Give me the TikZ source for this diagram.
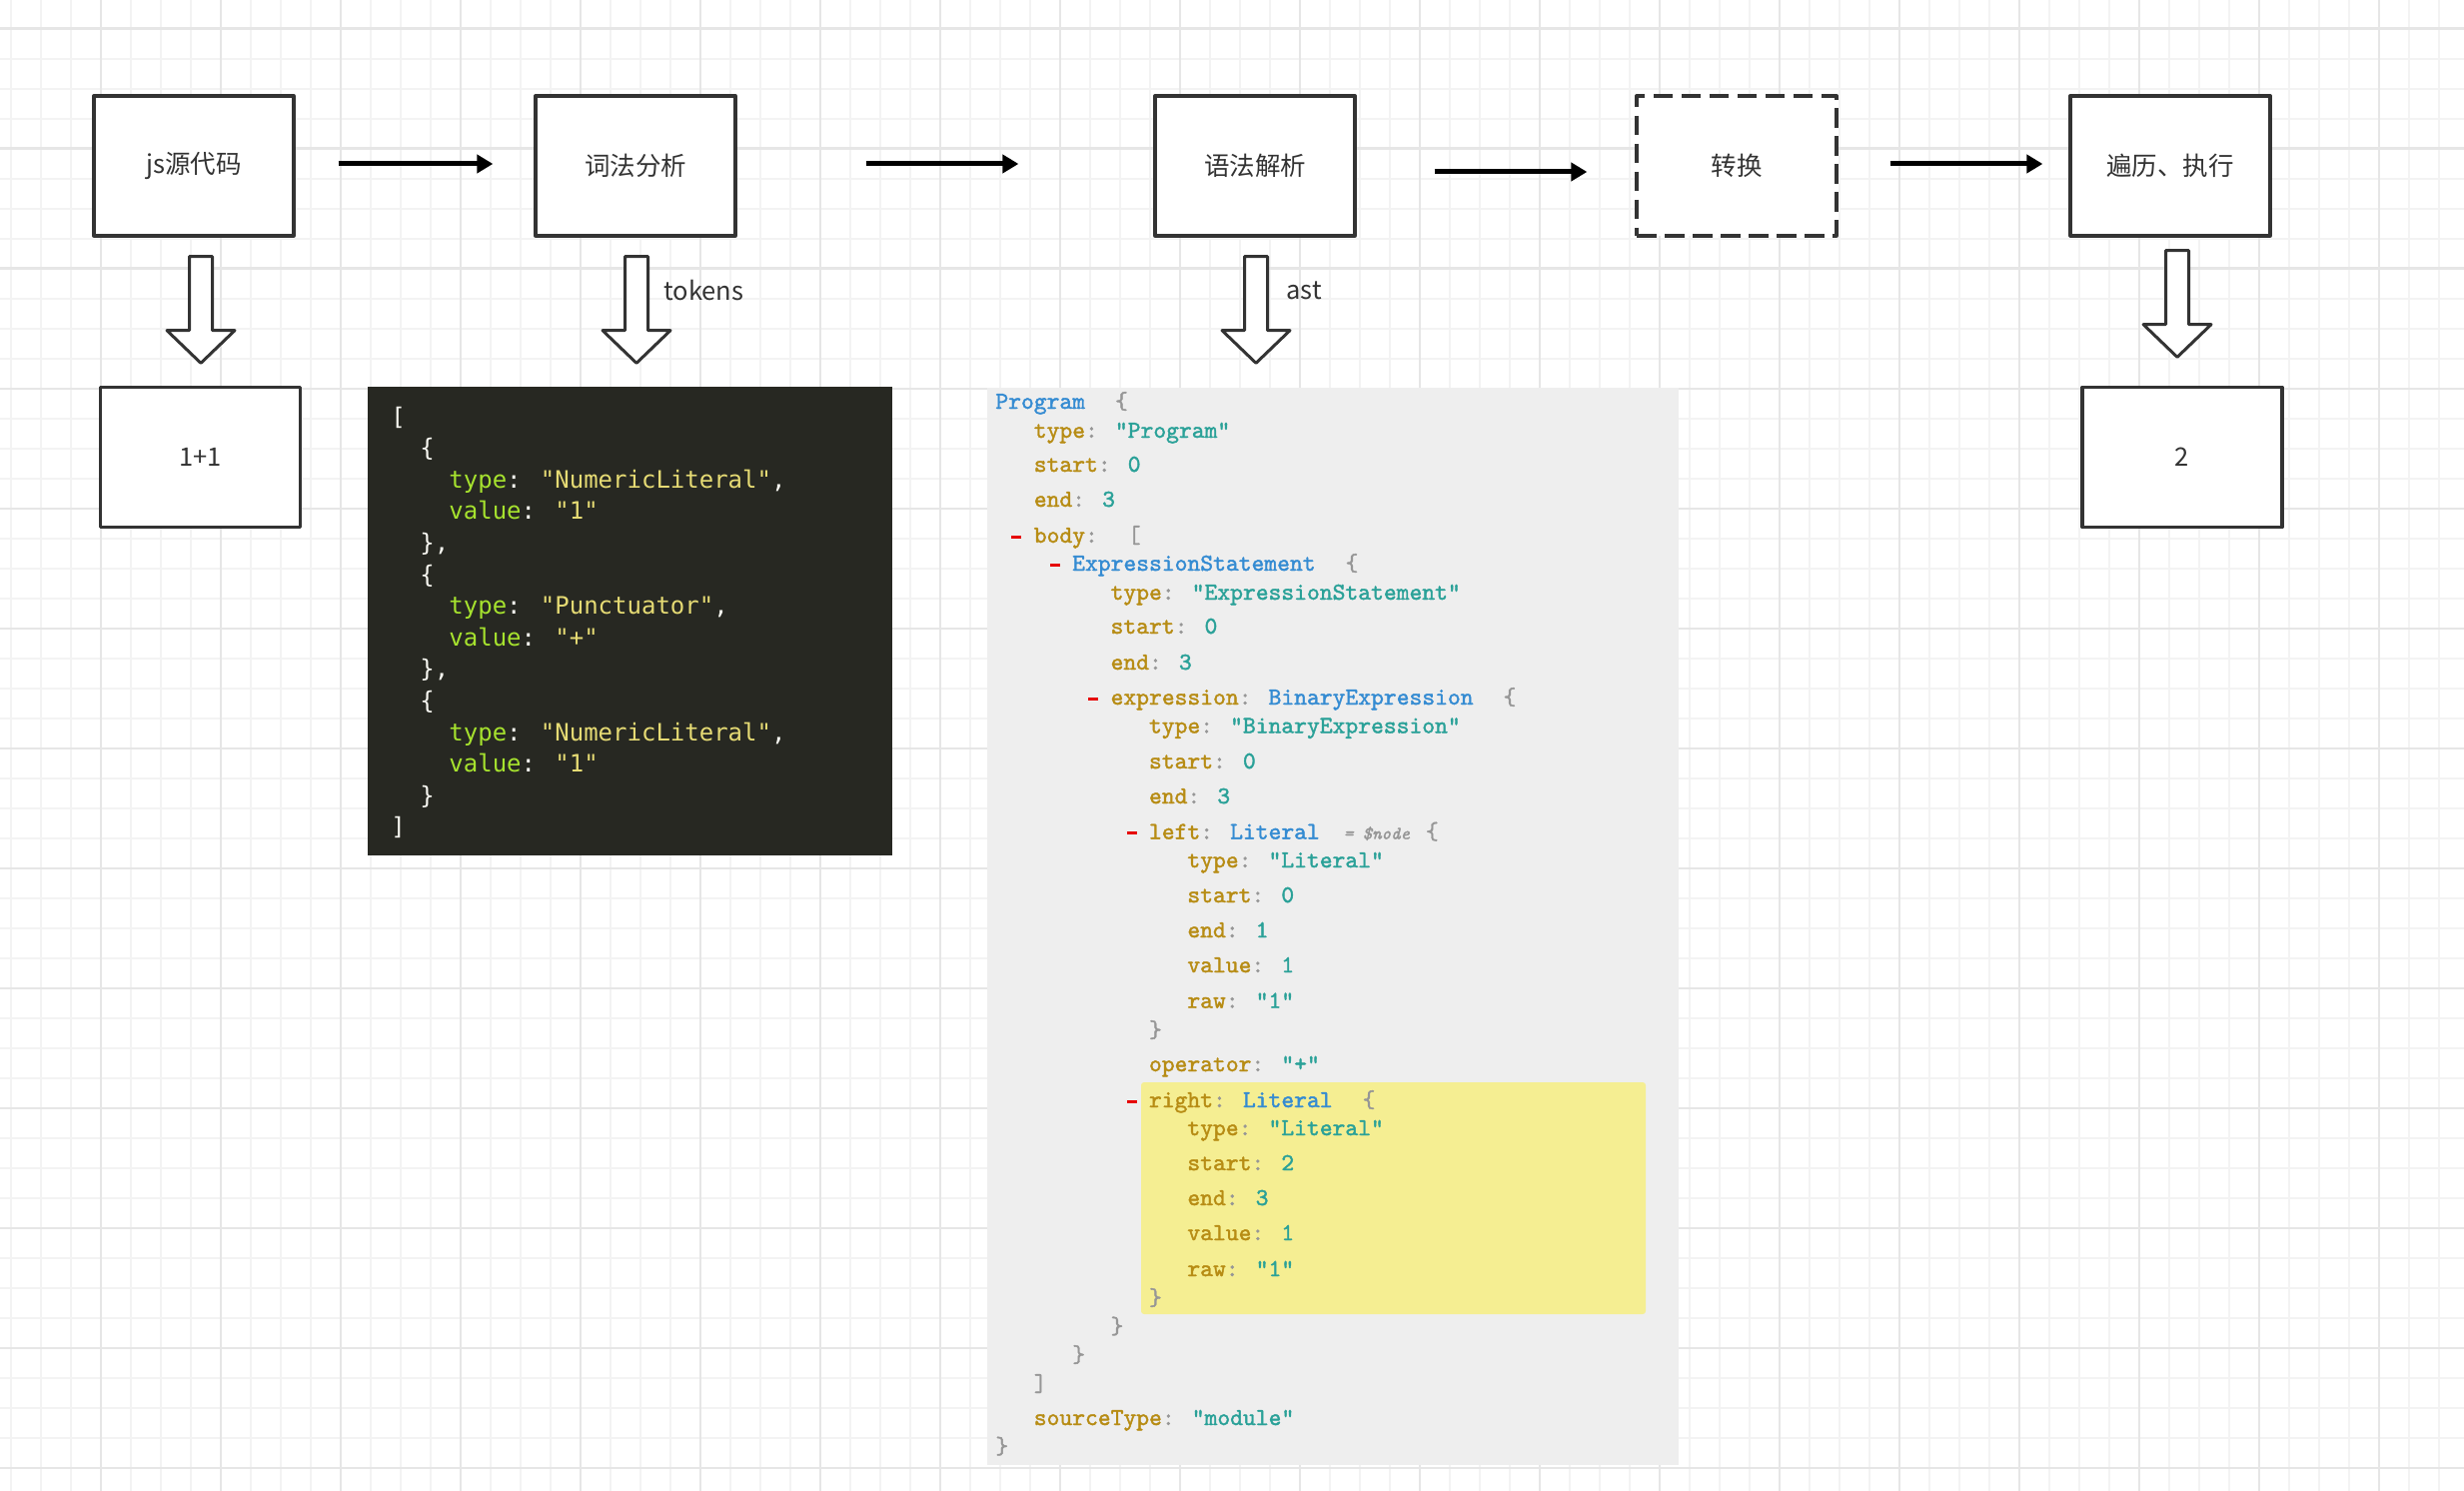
\documentclass[tikz,border=0pt]{standalone}
\usepackage{fontspec}
\setmainfont{Liberation Sans}
\newfontfamily\cjk{Noto Sans CJK SC}
\newfontfamily\dmono{DejaVu Sans Mono}
\newfontfamily\astfont{lmmono10-regular.otf}[FakeBold=1.6, BoldFont=lmmono10-regular.otf, ItalicFont=lmmono10-italic.otf]
\usetikzlibrary{arrows.meta}
\definecolor{gridminor}{RGB}{243,243,243}
\definecolor{gridmajor}{RGB}{230,230,230}
\definecolor{boxline}{RGB}{51,51,51}
\definecolor{mkbg}{RGB}{39,40,34}
\definecolor{mkkey}{RGB}{166,226,46}
\definecolor{mkstr}{RGB}{230,219,116}
\definecolor{mkpun}{RGB}{248,248,242}
\definecolor{astbg}{RGB}{238,238,238}
\definecolor{asthl}{RGB}{245,238,146}
\definecolor{askey}{RGB}{183,140,20}
\definecolor{astyp}{RGB}{52,139,210}
\definecolor{asstr}{RGB}{42,161,152}
\definecolor{asgray}{RGB}{150,150,150}
\definecolor{asred}{RGB}{230,0,0}
\newcommand\mK[1]{\textcolor{mkkey}{#1}}
\newcommand\mS[1]{\textcolor{mkstr}{#1}}
\newcommand\mP[1]{\textcolor{mkpun}{#1}}
\newcommand\xK[1]{\textcolor{askey}{#1}\textcolor{asgray}{:}}
\newcommand\xS[1]{\textcolor{asstr}{#1}}
\newcommand\xT[1]{\textcolor{astyp}{#1}}
\newcommand\xB[1]{\hspace{15pt}{\mdseries\textcolor{asgray}{#1}}}
\newcommand\xG[1]{{\mdseries\textcolor{asgray}{#1}}}
\begin{document}
\begin{tikzpicture}[x=0.5pt,y=-0.5pt,
  box/.style={draw=boxline, line width=1.65pt, fill=white, minimum width=100pt,
    minimum height=70pt, inner sep=0pt, line join=round, text=boxline,
    font=\cjk\fontsize{12.75}{15}\selectfont},
  dashbox/.style={box, dash pattern=on 9.75pt off 4.25pt},
  flow/.style={line width=2.5pt, -{Triangle[length=8pt,width=9pt]}},
  hollow/.style={draw=boxline, fill=white, line width=1.5pt, line join=round},
  lbl/.style={anchor=west, inner sep=0pt, text=boxline, font=\cjk\fontsize{12.75}{15}\selectfont},
  mk/.style={anchor=west, inner sep=0pt, text height=8pt, text depth=2pt,
    font=\dmono\fontsize{12}{14}\selectfont},
  ast/.style={anchor=west, inner sep=0pt, text height=8pt, text depth=2pt,
    font=\astfont\bfseries\fontsize{12.2}{14}\selectfont},
  redmark/.style={draw=asred, line width=1.5pt},
  blockdown/.pic={\path[hollow] (-11.5,0) -- (-11.5,74) -- (-34,74) -- (0,106.7)
    -- (34,74) -- (11.5,74) -- (11.5,0) -- cycle;}
]
\useasboundingbox (0,0) rectangle (2466,1492);
\fill[white] (0,0) rectangle (2466,1492);
% grid
\foreach \x in {11,41,...,2461} \draw[gridminor, line width=1pt] (\x,0) -- (\x,1492);
\foreach \y in {28.6,58.6,...,1490} \draw[gridminor, line width=1pt] (0,\y) -- (2466,\y);
\foreach \x in {101,221,...,2461} \draw[gridmajor, line width=1.1pt] (\x,0) -- (\x,1492);
\foreach \y in {28.6,148.6,...,1490} \draw[gridmajor, line width=1.1pt] (0,\y) -- (2466,\y);

% top row
\node[box] (js) at (194,166) {js源代码};
\node[box] (cifa) at (636,166) {词法分析};
\node[box] (yufa) at (1256,166) {语法解析};
\node[dashbox] (zh) at (1738,166) {转换};
\node[box] (bl) at (2172,166) {遍历、执行};
% bottom boxes
\node[box] (src) at (200.5,457.5) {1+1};
\node[box] (res) at (2184,457.5) {2};

% flow arrows
\draw[flow, shorten <=21.5pt, shorten >=20.5pt] ([yshift=1pt]js.east) -- ([yshift=1pt]cifa.west);
\draw[flow, shorten <=64.5pt, shorten >=67.5pt] ([yshift=1pt]cifa.east) -- ([yshift=1pt]yufa.west);
\draw[flow, shorten <=39pt, shorten >=24pt] ([yshift=-3pt]yufa.east) -- ([yshift=-3pt]zh.west);
\draw[flow, shorten <=26pt, shorten >=13pt] ([yshift=1pt]zh.east) -- ([yshift=1pt]bl.west);

% hollow down arrows
\pic (d1) at ([shift={(7,19)}]js.south) {blockdown};
\pic (d2) at ([shift={(1,19)}]cifa.south) {blockdown};
\pic (d3) at ([shift={(1,19)}]yufa.south) {blockdown};
\pic (d4) at ([shift={(7,13)}]bl.south) {blockdown};
\node[lbl] (tk) at (664,291) {tokens};
\node[lbl] (as) at (1287,291) {ast};

% tokens panel
\fill[mkbg] (368,387) rectangle (893,856);
\node[mk] (c0) at (391,419) {\mP{[}};
\node[mk] (c1) at (420,450.6) {\mP{\{}};
\node[mk] (c2) at (449,482.2) {\mK{type}\mP{:} \mS{"NumericLiteral"}\mP{,}};
\node[mk] (c3) at (449,513.8) {\mK{value}\mP{:} \mS{"1"}};
\node[mk] (c4) at (420,545.4) {\mP{\},}};
\node[mk] (c5) at (420,577) {\mP{\{}};
\node[mk] (c6) at (449,608.6) {\mK{type}\mP{:} \mS{"Punctuator"}\mP{,}};
\node[mk] (c7) at (449,640.2) {\mK{value}\mP{:} \mS{"+"}};
\node[mk] (c8) at (420,671.8) {\mP{\},}};
\node[mk] (c9) at (420,703.4) {\mP{\{}};
\node[mk] (c10) at (449,735) {\mK{type}\mP{:} \mS{"NumericLiteral"}\mP{,}};
\node[mk] (c11) at (449,766.6) {\mK{value}\mP{:} \mS{"1"}};
\node[mk] (c12) at (420,798.2) {\mP{\}}};
\node[mk] (c13) at (391,829.8) {\mP{]}};

% AST panel
\fill[astbg] (988,388) rectangle (1680,1466);
\fill[asthl, rounded corners=1.5pt] (1142,1083) rectangle (1647,1315);
\node[ast] (p1) at (996,403) {\xT{Program}\xB{\{}};
\node[ast] (p2) at (1034.4,432) {\xK{type} \xS{"Program"}};
\node[ast] (p3) at (1034.4,466) {\xK{start} \xS{0}};
\node[ast] (p4) at (1034.4,501) {\xK{end} \xS{3}};
\node[ast] (p5) at (1034.4,537) {\xK{body}\xB{[}};
\node[ast] (p6) at (1072.8,565) {\xT{ExpressionStatement}\xB{\{}};
\node[ast] (p7) at (1111.2,594) {\xK{type} \xS{"ExpressionStatement"}};
\node[ast] (p8) at (1111.2,628) {\xK{start} \xS{0}};
\node[ast] (p9) at (1111.2,664) {\xK{end} \xS{3}};
\node[ast] (p10) at (1111.2,699) {\xK{expression} \xT{BinaryExpression}\xB{\{}};
\node[ast] (p11) at (1149.6,727.5) {\xK{type} \xS{"BinaryExpression"}};
\node[ast] (p12) at (1149.6,763) {\xK{start} \xS{0}};
\node[ast] (p13) at (1149.6,798) {\xK{end} \xS{3}};
\node[ast] (p14) at (1149.6,833.6) {\xK{left} \xT{Literal}\hspace{12pt}{\mdseries\itshape\fontsize{9}{10}\selectfont\color{asgray}= \$node}\hspace{8pt}\xG{\{}};
\node[ast] (p15) at (1188,862) {\xK{type} \xS{"Literal"}};
\node[ast] (p16) at (1188,897) {\xK{start} \xS{0}};
\node[ast] (p17) at (1188,932) {\xK{end} \xS{1}};
\node[ast] (p18) at (1188,967) {\xK{value} \xS{1}};
\node[ast] (p19) at (1188,1002.7) {\xK{raw} \xS{"1"}};
\node[ast] (p20) at (1149.6,1032) {\xG{\}}};
\node[ast] (p21) at (1149.6,1066) {\xK{operator} \xS{"+"}};
\node[ast] (p22) at (1149.6,1102) {\xK{right} \xT{Literal}\xB{\{}};
\node[ast] (p23) at (1188,1130) {\xK{type} \xS{"Literal"}};
\node[ast] (p24) at (1188,1165) {\xK{start} \xS{2}};
\node[ast] (p25) at (1188,1200) {\xK{end} \xS{3}};
\node[ast] (p26) at (1188,1235) {\xK{value} \xS{1}};
\node[ast] (p27) at (1188,1271) {\xK{raw} \xS{"1"}};
\node[ast] (p28) at (1149.6,1300) {\xG{\}}};
\node[ast] (p29) at (1111.2,1328.5) {\xG{\}}};
\node[ast] (p30) at (1072.8,1357) {\xG{\}}};
\node[ast] (p31) at (1034.4,1386) {\xG{]}};
\node[ast] (p32) at (1034.4,1420) {\xK{sourceType} \xS{"module"}};
\node[ast] (p33) at (996,1448.6) {\xG{\}}};
% collapse markers
\draw[redmark] (1012,537) -- (1022,537);
\draw[redmark] (1051,565) -- (1061,565);
\draw[redmark] (1089,699) -- (1099,699);
\draw[redmark] (1128,833.6) -- (1138,833.6);
\draw[redmark] (1128,1102) -- (1138,1102);
\end{tikzpicture}
\end{document}
